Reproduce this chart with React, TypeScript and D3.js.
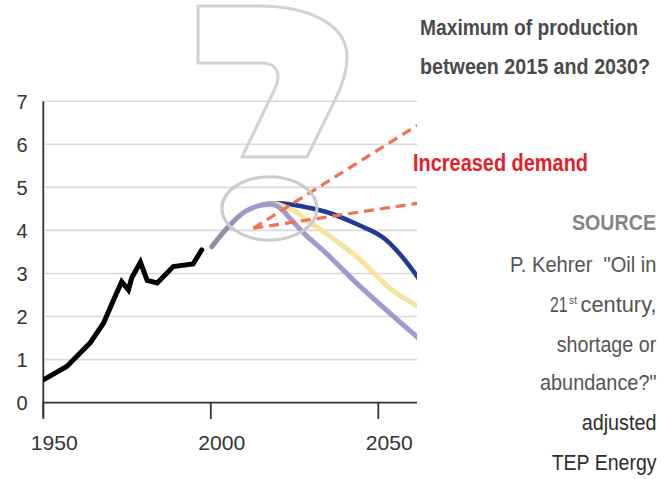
import React from "react";
import * as d3 from "d3";

const W = 666;
const H = 479;

const yTicks = [0, 1, 2, 3, 4, 5, 6, 7];
const xTicks = [1950, 2000, 2050];

const historyYears = [1950, 1957, 1964, 1968, 1971, 1973.4, 1975.4, 1976.4, 1979, 1981, 1984, 1988.8, 1994.7, 1997.3];
const historyValues = [0.53, 0.84, 1.39, 1.85, 2.39, 2.81, 2.62, 2.9, 3.26, 2.84, 2.78, 3.16, 3.22, 3.55];

const lowYears = [2000.3, 2005.3, 2010.3, 2015.3, 2018, 2021, 2024, 2028, 2034, 2044, 2054, 2062];
const lowValues = [3.62, 4.09, 4.44, 4.59, 4.61, 4.5, 4.25, 3.92, 3.5, 2.74, 2.04, 1.5];

const midYears = [2015.3, 2019, 2022, 2025, 2029, 2034, 2044, 2054, 2062];
const midValues = [4.59, 4.62, 4.55, 4.45, 4.22, 3.95, 3.36, 2.62, 2.23];

const highYears = [2015.3, 2020, 2024, 2029, 2034, 2044, 2052, 2057, 2062];
const highValues = [4.6, 4.63, 4.6, 4.53, 4.44, 4.13, 3.8, 3.4, 2.89];

const demandStart = [2012.7, 4.05];
const demandHighEnd = [2061.6, 6.44];
const demandLowEnd = [2061.6, 4.63];

const peakCenter = [2017.5, 4.51];

const headline = ["Maximum of production", "between 2015 and 2030?"];
const demandLabel = "Increased demand";
const sourceTitle = "SOURCE";

export default function App() {
  const x = d3.scaleLinear().domain([1950, 2050]).range([43.3, 378.3]);
  const y = d3.scaleLinear().domain([0, 7]).range([402.7, 101.2]);
  const plotRight = 417;

  const line = d3
    .line<[number, number]>()
    .x((d) => x(d[0]))
    .y((d) => y(d[1]));
  const smooth = d3
    .line<[number, number]>()
    .x((d) => x(d[0]))
    .y((d) => y(d[1]))
    .curve(d3.curveMonotoneX);

  const zip = (a: number[], b: number[]) => a.map((v, i) => [v, b[i]] as [number, number]);

  const hist = line(zip(historyYears, historyValues)) || "";
  const low = smooth(zip(lowYears, lowValues)) || "";
  const mid = smooth(zip(midYears, midValues)) || "";
  const high = smooth(zip(highYears, highValues)) || "";

  const rx = 47.5;
  const ry = 31.7;

  const narrow = "'Liberation Sans Narrow', 'Arial Narrow', 'Liberation Sans', Arial, sans-serif";
  const sans = "'Liberation Sans', Arial, sans-serif";

  return (
    <svg
      width={W}
      height={H}
      viewBox={`0 0 ${W} ${H}`}
      style={{ position: "absolute", left: 0, top: 0, background: "#fff" }}
    >
      <defs>
        <clipPath id="plotClip">
          <rect x={43} y={0} width={plotRight - 43} height={H} />
        </clipPath>
        <linearGradient id="lowGrad" gradientUnits="userSpaceOnUse" x1={x(2000)} y1={0} x2={x(2012)} y2={0}>
          <stop offset="0%" stopColor="#8d8c9e" />
          <stop offset="100%" stopColor="#a09bcf" />
        </linearGradient>
      </defs>

      {/* gridlines */}
      {yTicks
        .filter((t) => t > 0)
        .map((t) => (
          <line key={t} x1={45} x2={plotRight} y1={y(t)} y2={y(t)} stroke="#d9d9d9" strokeWidth={1.6} />
        ))}

      {/* big question mark outline */}
      <path
        d="M198,6 L258,6 C312,6 347,26 347,57 C347,74 341,88 335,100 L307,157 L242,157 L272,95 C275,88 278,83 278,77 C278,68 272,63 262,63 L198,63 Z"
        fill="none"
        stroke="#d2d2d2"
        strokeWidth={3}
        strokeLinejoin="round"
      />

      {/* axes */}
      <line x1={x(1950)} x2={x(1950)} y1={y(7)} y2={417} stroke="#333" strokeWidth={1.8} />
      <line x1={x(1950)} x2={plotRight} y1={y(0)} y2={y(0)} stroke="#333" strokeWidth={1.8} />
      {xTicks.map((t) => (
        <line key={t} x1={x(t)} x2={x(t)} y1={y(0)} y2={419} stroke="#333" strokeWidth={1.8} />
      ))}

      {yTicks.map((t) => (
        <text
          key={t}
          x={22}
          y={y(t) + 7.5}
          textAnchor="middle"
          fontFamily={sans}
          fontSize={20}
          fill="#333"
        >
          {t}
        </text>
      ))}
      {xTicks.map((t) => (
        <text
          key={t}
          x={x(t) + 11}
          y={450}
          textAnchor="middle"
          fontFamily={sans}
          fontSize={21}
          fill="#333"
          textLength={47}
          lengthAdjust="spacingAndGlyphs"
        >
          {t}
        </text>
      ))}

      <g clipPath="url(#plotClip)">
        <path d={high} fill="none" stroke="#233b93" strokeWidth={4.5} strokeLinecap="round" />
        <path d={mid} fill="none" stroke="#f4e4a0" strokeWidth={5} strokeLinecap="round" />
        <path d={low} fill="none" stroke="url(#lowGrad)" strokeWidth={5} strokeLinecap="round" />
        <path d={hist} fill="none" stroke="#000" strokeWidth={5} strokeLinejoin="miter" strokeLinecap="round" />

        <line
          x1={x(demandStart[0])}
          y1={y(demandStart[1])}
          x2={x(demandHighEnd[0])}
          y2={y(demandHighEnd[1])}
          stroke="#f07252"
          strokeWidth={3.2}
          strokeDasharray="10,6"
        />
        <line
          x1={x(demandStart[0])}
          y1={y(demandStart[1])}
          x2={x(demandLowEnd[0])}
          y2={y(demandLowEnd[1])}
          stroke="#f07252"
          strokeWidth={3.2}
          strokeDasharray="10,6"
        />
      </g>

      <ellipse
        cx={x(peakCenter[0])}
        cy={y(peakCenter[1])}
        rx={rx}
        ry={ry}
        fill="none"
        stroke="#cbcbcb"
        strokeWidth={3}
      />

      {/* right-side texts */}
      <text x={420} y={35} fontFamily={narrow} fontWeight="bold" fontSize={22} fill="#4b4b4b" textLength={218} lengthAdjust="spacingAndGlyphs">
        {headline[0]}
      </text>
      <text x={420} y={73.5} fontFamily={narrow} fontWeight="bold" fontSize={22} fill="#4b4b4b" textLength={230} lengthAdjust="spacingAndGlyphs">
        {headline[1]}
      </text>
      <text x={413} y={171} fontFamily={narrow} fontWeight="bold" fontSize={23} fill="#e4202b" textLength={175} lengthAdjust="spacingAndGlyphs">
        {demandLabel}
      </text>
      <text x={572} y={230} fontFamily={narrow} fontWeight="bold" fontSize={22} fill="#858585" textLength={84} lengthAdjust="spacingAndGlyphs">
        {sourceTitle}
      </text>
      <text x={510} y={271.7} fontFamily={narrow} fontSize={21.5} fill="#555" textLength={146.5} lengthAdjust="spacingAndGlyphs" xmlSpace="preserve">
        {'P. Kehrer  "Oil in'}
      </text>
      <text x={550} y={311.7} fontFamily={narrow} fontSize={21.5} fill="#555" textLength={17.5} lengthAdjust="spacingAndGlyphs">
        21
      </text>
      <text x={569} y={304} fontFamily={narrow} fontSize={11} fill="#555" textLength={8} lengthAdjust="spacingAndGlyphs">
        st
      </text>
      <text x={580.5} y={311.7} fontFamily={narrow} fontSize={21.5} fill="#555" textLength={76} lengthAdjust="spacingAndGlyphs">
        century,
      </text>
      <text x={556.7} y={351.7} fontFamily={narrow} fontSize={21.5} fill="#555" textLength={99.5} lengthAdjust="spacingAndGlyphs">
        shortage or
      </text>
      <text x={540} y={390} fontFamily={narrow} fontSize={21.5} fill="#555" textLength={116.5} lengthAdjust="spacingAndGlyphs">
        {'abundance?"'}
      </text>
      <text x={581.7} y={430} fontFamily={narrow} fontSize={21.5} fill="#2e2e2e" textLength={74.8} lengthAdjust="spacingAndGlyphs">
        adjusted
      </text>
      <text x={551.7} y={470} fontFamily={narrow} fontSize={21.5} fill="#2e2e2e" textLength={104.8} lengthAdjust="spacingAndGlyphs">
        TEP Energy
      </text>
    </svg>
  );
}
